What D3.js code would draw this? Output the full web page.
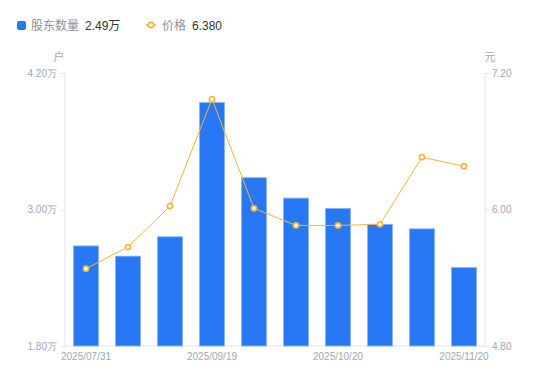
<!DOCTYPE html>
<html>
<head>
<meta charset="utf-8">
<script src="https://cdn.jsdelivr.net/npm/d3@7"></script>
<style>
  body { margin: 0; background: #fff; }
  svg { font-family: "Liberation Sans", "Noto Sans CJK SC", sans-serif; }
</style>
</head>
<body>
<div id="chart"></div>
<script>
const dates = ["2025/07/31", "2025/08/20", "2025/08/29", "2025/09/19", "2025/09/30",
               "2025/10/10", "2025/10/20", "2025/10/31", "2025/11/10", "2025/11/20"];
const holders = [2.68, 2.59, 2.76, 3.94, 3.28, 3.10, 3.01, 2.87, 2.83, 2.49]; // 万户
const prices = [5.48, 5.67, 6.03, 6.97, 6.01, 5.86, 5.86, 5.87, 6.46, 6.38];
const leftTicks = [1.8, 3.0, 4.2];
const rightTicks = [4.8, 6.0, 7.2];
const xTickLabels = ["2025/07/31", "2025/09/19", "2025/10/20", "2025/11/20"];

const width = 550, height = 381;
const plotLeft = 65, plotRight = 485, plotTop = 73, plotBottom = 346;
const axisColor = "#e3e4ea";
const labelColor = "#a3a6b8";
const barColor = "#2878f5";
const lineColor = "#f9b437";

const svg = d3.select("#chart").append("svg")
    .attr("width", width)
    .attr("height", height);

const x = d3.scaleBand()
    .domain(dates)
    .range([plotLeft, plotRight])
    .paddingInner(0.4)
    .paddingOuter(0.2);

const yLeft = d3.scaleLinear().domain([1.8, 4.2]).range([plotBottom, plotTop]);
const yRight = d3.scaleLinear().domain([4.8, 7.2]).range([plotBottom, plotTop]);

// left axis
const gLeft = svg.append("g")
    .attr("transform", `translate(${plotLeft},0)`)
    .call(d3.axisLeft(yLeft).tickValues(leftTicks).tickSize(4).tickPadding(4)
        .tickFormat(d => d.toFixed(2) + "万"));
gLeft.select(".domain").attr("stroke", axisColor).attr("d", `M0,${plotTop}V${plotBottom}`);
gLeft.selectAll(".tick line").attr("stroke", axisColor);
gLeft.selectAll(".tick text").attr("fill", labelColor).style("font-size", "10px");

// right axis
const gRight = svg.append("g")
    .attr("transform", `translate(${plotRight},0)`)
    .call(d3.axisRight(yRight).tickValues(rightTicks).tickSize(4).tickPadding(3)
        .tickFormat(d => d.toFixed(2)));
gRight.select(".domain").attr("stroke", axisColor).attr("d", `M0,${plotTop}V${plotBottom}`);
gRight.selectAll(".tick line").attr("stroke", axisColor);
gRight.selectAll(".tick text").attr("fill", labelColor).style("font-size", "10px");

// bottom axis
const gBottom = svg.append("g")
    .attr("transform", `translate(0,${plotBottom})`)
    .call(d3.axisBottom(x).tickValues(xTickLabels).tickSize(0).tickPadding(7));
gBottom.select(".domain").attr("stroke", axisColor).attr("d", `M${plotLeft},0H${plotRight}`);
gBottom.selectAll(".tick text").attr("fill", labelColor).style("font-size", "10px");

// unit labels
svg.append("text").attr("x", 59).attr("y", 61).attr("text-anchor", "middle")
    .attr("fill", labelColor).style("font-size", "11px").text("户");
svg.append("text").attr("x", 490).attr("y", 61).attr("text-anchor", "middle")
    .attr("fill", labelColor).style("font-size", "11px").text("元");

// bars
svg.selectAll(".bar")
    .data(holders)
    .enter().append("rect")
    .attr("class", "bar")
    .attr("x", (d, i) => x(dates[i]))
    .attr("width", x.bandwidth())
    .attr("y", d => yLeft(d))
    .attr("height", d => plotBottom - yLeft(d))
    .attr("fill", barColor)
    .attr("stroke", "#8db6f8")
    .attr("stroke-width", 0.8);

// price line
const line = d3.line()
    .x((d, i) => x(dates[i]) + x.bandwidth() / 2)
    .y(d => yRight(d));

svg.append("path")
    .datum(prices)
    .attr("d", line)
    .attr("fill", "none")
    .attr("stroke", lineColor)
    .attr("stroke-width", 1);

svg.selectAll(".pt")
    .data(prices)
    .enter().append("circle")
    .attr("class", "pt")
    .attr("cx", (d, i) => x(dates[i]) + x.bandwidth() / 2)
    .attr("cy", d => yRight(d))
    .attr("r", 2.6)
    .attr("fill", "#fff")
    .attr("stroke", lineColor)
    .attr("stroke-width", 1.6);

// legend
const legend = svg.append("g").style("font-size", "12px");
legend.append("rect").attr("x", 17).attr("y", 21).attr("width", 9).attr("height", 9)
    .attr("rx", 2).attr("fill", barColor);
legend.append("text").attr("x", 31).attr("y", 29.5).attr("fill", "#8e90a0").text("股东数量");
legend.append("text").attr("x", 85).attr("y", 29.5).attr("fill", "#333").text(holders[holders.length - 1].toFixed(2) + "万");

legend.append("line").attr("x1", 146).attr("x2", 156).attr("y1", 25).attr("y2", 25)
    .attr("stroke", lineColor).attr("stroke-width", 1.5);
legend.append("circle").attr("cx", 151).attr("cy", 25).attr("r", 2.6)
    .attr("fill", "#fff").attr("stroke", lineColor).attr("stroke-width", 1.6);
legend.append("text").attr("x", 162).attr("y", 29.5).attr("fill", "#8e90a0").text("价格");
legend.append("text").attr("x", 192).attr("y", 29.5).attr("fill", "#333").text(prices[prices.length - 1].toFixed(3));
</script>
</body>
</html>
